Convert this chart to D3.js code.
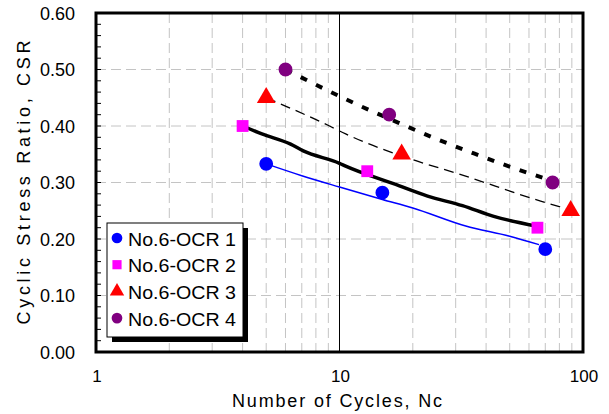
<!DOCTYPE html>
<html lang="en">
<head>
  <meta charset="UTF-8">
  <title>Cyclic Stress Ratio vs Number of Cycles</title>
  <script src="https://d3js.org/d3.v7.min.js"></script>
  <style>
    body { margin: 0; background: #fff; }
    text { font-family: "Liberation Sans", Arial, sans-serif; }
  </style>
</head>
<body>
  <svg width="609" height="414"></svg>
  <script>
    // test points (N, CSR)
    const seriesNames = ["No.6-OCR 1", "No.6-OCR 2", "No.6-OCR 3", "No.6-OCR 4"];
    const ocr1N = [5, 15, 70];
    const ocr1Csr = [0.333, 0.282, 0.182];
    const ocr2N = [4, 13, 65];
    const ocr2Csr = [0.40, 0.32, 0.22];
    const ocr3N = [5, 18, 89];
    const ocr3Csr = [0.45, 0.35, 0.25];
    const ocr4N = [6, 16, 75];
    const ocr4Csr = [0.50, 0.42, 0.30];

    // fitted curves
    const fit1N = [5, 7, 10, 15, 20, 33, 50, 66];
    const fit1Csr = [0.333, 0.312, 0.292, 0.270, 0.255, 0.223, 0.205, 0.190];
    const fit2N = [4, 4.8, 6.3, 7.1, 10, 10.6, 16.9, 23, 32, 43, 64];
    const fit2Csr = [0.40, 0.386, 0.368, 0.356, 0.334, 0.329, 0.297, 0.276, 0.259, 0.240, 0.223];
    const fit3N = [5, 9.1, 10.6, 19.8, 31, 67, 88];
    const fit3Csr = [0.45, 0.40, 0.386, 0.341, 0.315, 0.267, 0.252];
    const fit4N = [6, 10.2, 12.1, 17.4, 24.7, 34.9, 49.3, 70];
    const fit4Csr = [0.50, 0.451, 0.436, 0.406, 0.378, 0.353, 0.329, 0.307];

    const yTicks = [0, 0.1, 0.2, 0.3, 0.4, 0.5, 0.6];
    const xTicks = [1, 10, 100];

    const mLeft = 96, mRight = 583, mTop = 13, mBottom = 352;
    const svg = d3.select("svg");

    const x = d3.scaleLog().domain([1, 100]).range([mLeft, mRight]);
    const y = d3.scaleLinear().domain([0, 0.6]).range([mBottom, mTop]);

    const zip = (a, b) => a.map((v, i) => [v, b[i]]);

    // grid
    const minorX = [2, 3, 4, 5, 6, 7, 8, 9, 20, 30, 40, 50, 60, 70, 80, 90];
    svg.append("g").selectAll("line").data(minorX).join("line")
      .attr("x1", d => x(d)).attr("x2", d => x(d))
      .attr("y1", mTop).attr("y2", mBottom)
      .attr("stroke", "#c4c4c4").attr("stroke-dasharray", "10,5");
    svg.append("g").selectAll("line").data(yTicks.slice(1, -1)).join("line")
      .attr("x1", mLeft).attr("x2", mRight)
      .attr("y1", d => y(d)).attr("y2", d => y(d))
      .attr("stroke", "#c4c4c4").attr("stroke-dasharray", "10,5");
    svg.append("line")
      .attr("x1", x(10)).attr("x2", x(10)).attr("y1", mTop).attr("y2", mBottom)
      .attr("stroke", "#000").attr("stroke-width", 1);

    // y minor ticks inside
    svg.append("g").selectAll("line").data(d3.range(0, 0.6001, 0.02)).join("line")
      .attr("x1", mLeft).attr("x2", mLeft + 5)
      .attr("y1", d => y(d)).attr("y2", d => y(d))
      .attr("stroke", "#000");

    // fitted lines
    const line = d3.line().x(d => x(d[0])).y(d => y(d[1])).curve(d3.curveMonotoneX);
    svg.append("path").attr("d", line(zip(fit1N, fit1Csr)))
      .attr("fill", "none").attr("stroke", "#0000ff").attr("stroke-width", 1.5);
    svg.append("path").attr("d", line(zip(fit2N, fit2Csr)))
      .attr("fill", "none").attr("stroke", "#000").attr("stroke-width", 3.5);
    svg.append("path").attr("d", line(zip(fit3N, fit3Csr)))
      .attr("fill", "none").attr("stroke", "#000").attr("stroke-width", 1.3)
      .attr("stroke-dasharray", "10,6");
    svg.append("path").attr("d", line(zip(fit4N, fit4Csr)))
      .attr("fill", "none").attr("stroke", "#000").attr("stroke-width", 4)
      .attr("stroke-dasharray", "7,10");

    // markers
    const colors = ["#0000ff", "#ff00ff", "#ff0000", "#800080"];
    const shapes = [d3.symbolCircle, d3.symbolSquare, d3.symbolTriangle, d3.symbolCircle];
    const sizes = [150, 140, 150, 150];
    const pts = [zip(ocr1N, ocr1Csr), zip(ocr2N, ocr2Csr), zip(ocr3N, ocr3Csr), zip(ocr4N, ocr4Csr)];
    pts.forEach((p, i) => {
      svg.append("g").selectAll("path").data(p).join("path")
        .attr("d", d3.symbol().type(shapes[i]).size(sizes[i]))
        .attr("transform", d => `translate(${x(d[0])},${y(d[1])})`)
        .attr("fill", colors[i]);
    });

    // frame
    svg.append("rect")
      .attr("x", mLeft).attr("y", mTop)
      .attr("width", mRight - mLeft).attr("height", mBottom - mTop)
      .attr("fill", "none").attr("stroke", "#000").attr("stroke-width", 3);

    // tick labels
    svg.append("g").selectAll("text").data(yTicks).join("text")
      .attr("x", mLeft - 21).attr("y", d => y(d) + 6.5)
      .attr("text-anchor", "end").attr("font-size", 18)
      .text(d => d.toFixed(2));
    svg.append("g").selectAll("text").data(xTicks).join("text")
      .attr("x", d => x(d) + 1).attr("y", 382)
      .attr("text-anchor", "middle").attr("font-size", 17)
      .text(d => d);

    // axis titles
    svg.append("text")
      .attr("x", 337).attr("y", 407)
      .attr("text-anchor", "middle").attr("font-size", 18)
      .attr("textLength", 210).attr("lengthAdjust", "spacing")
      .text("Number of Cycles, Nc");
    svg.append("text")
      .attr("transform", `translate(30,${(mTop + mBottom) / 2}) rotate(-90)`)
      .attr("text-anchor", "middle").attr("font-size", 18)
      .attr("textLength", 284).attr("lengthAdjust", "spacing")
      .text("Cyclic Stress Ratio, CSR");

    // legend
    const lg = svg.append("g").attr("transform", "translate(107,223)");
    lg.append("rect").attr("x", 5).attr("y", 5).attr("width", 136).attr("height", 114).attr("fill", "#000");
    lg.append("rect").attr("x", 0).attr("y", 0).attr("width", 136).attr("height", 114)
      .attr("fill", "#fff").attr("stroke", "#000").attr("stroke-width", 1);
    seriesNames.forEach((name, i) => {
      const cy = 15 + i * 26.7;
      lg.append("path")
        .attr("d", d3.symbol().type(shapes[i]).size(sizes[i] * 0.6))
        .attr("transform", `translate(10,${cy})`)
        .attr("fill", colors[i]);
      lg.append("text").attr("x", 21).attr("y", cy + 7.5)
        .attr("font-size", 19)
        .attr("textLength", 108).attr("lengthAdjust", "spacingAndGlyphs")
        .text(name);
    });
  </script>
</body>
</html>
